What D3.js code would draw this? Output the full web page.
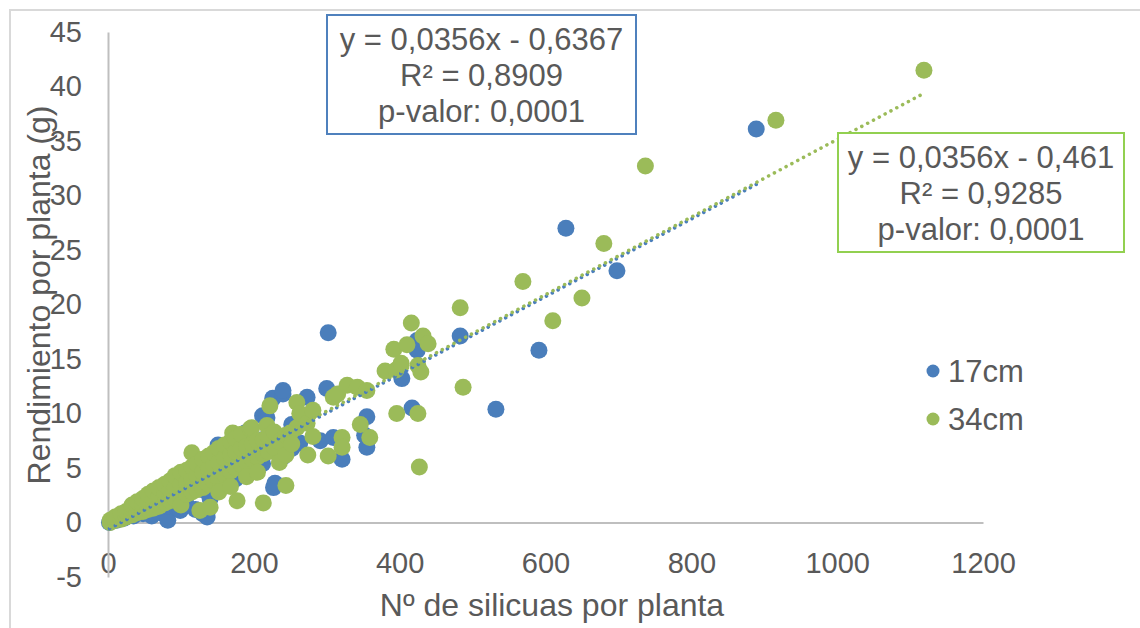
<!DOCTYPE html>
<html>
<head>
<meta charset="utf-8">
<script src="https://cdn.jsdelivr.net/npm/d3@7"></script>
<style>
  body { margin: 0; background: #fff; }
  svg { display: block; }
  text { font-family: "Liberation Sans", Arial, sans-serif; fill: #595959; }
</style>
</head>
<body>
<svg id="chart" width="1140" height="628"></svg>
<script>
// Axis ticks
const xTicks = [0, 200, 400, 600, 800, 1000, 1200];
const yTicks = [-5, 0, 5, 10, 15, 20, 25, 30, 35, 40, 45];

// Series
const seriesNames = ["17cm", "34cm"];
const seriesColors = ["#4a7ebb", "#9bbb59"];

// 17 cm spacing: [silicuas por planta, rendimiento por planta (g)]
const plants17 = [
  [2,0.0],[12,0.2],[22,0.4],[22,0.8],[35,0.6],[35,1.2],[48,0.8],[48,1.6],
  [60,0.6],[60,1.4],[60,2.2],[72,0.9],[72,2.0],[72,2.8],[82,0.2],[82,1.5],[82,3.0],
  [95,1.3],[95,2.4],[95,3.6],[99,1.1],[108,1.6],[108,3.0],[108,4.2],[120,1.2],[120,3.4],[120,4.8],
  [130,0.8],[130,3.0],[130,5.2],[136,0.5],[140,2.2],[140,4.0],[140,5.8],[151,3.0],[151,4.8],[151,7.1],
  [162,3.6],[162,5.4],[162,6.8],[175,4.0],[175,5.8],[175,7.6],[188,4.5],[188,6.4],[188,8.2],
  [200,5.0],[200,7.0],[212,5.4],[212,7.6],[212,9.8],[218,9.6],[226,11.4],[227,3.2],[229,3.6],
  [240,11.8],[240,12.1],[240,6.0],[252,6.8],[252,9.0],[263,7.3],[273,11.5],[291,7.5],
  [300,12.3],[302,17.4],[309,7.8],[321,5.8],[352,8.0],[355,6.9],[355,9.7],
  [403,13.2],[417,10.5],[424,16.7],[424,15.8],[483,17.1],[532,10.4],[591,15.8],
  [628,27.0],[698,23.1],[889,36.1]
];

// 34 cm spacing: [silicuas por planta, rendimiento por planta (g)]
const plants34 = [
  [3,0.0],[3,0.2],[10,0.2],[10,0.5],[18,0.3],[18,0.8],[25,0.5],[25,1.0],
  [33,0.7],[33,1.3],[33,1.6],[40,0.9],[40,1.5],[40,1.9],[48,1.0],[48,1.6],[48,2.2],
  [55,1.2],[55,1.9],[55,2.6],[62,1.3],[62,2.2],[62,2.9],[70,1.5],[70,2.4],[70,3.2],
  [78,1.8],[78,2.7],[78,3.5],[85,2.0],[85,3.0],[85,3.8],[92,2.2],[92,3.2],[92,4.3],
  [100,2.3],[100,3.5],[100,4.6],[100,1.6],[108,2.6],[108,3.7],[108,4.8],
  [115,2.8],[115,4.0],[115,5.1],[115,6.4],[122,3.0],[122,4.3],[122,5.4],[126,1.1],
  [130,3.2],[130,4.6],[130,5.8],[138,3.5],[138,4.9],[138,6.1],[140,1.4],
  [145,3.8],[145,5.3],[145,6.4],[152,4.0],[152,5.5],[152,6.8],[152,2.8],
  [160,4.4],[160,5.9],[160,7.1],[168,4.7],[168,6.2],[168,7.4],[168,3.3],
  [171,8.2],[175,5.0],[175,6.5],[175,7.7],[177,2.0],[183,5.3],[183,6.8],[183,8.1],
  [190,5.6],[190,7.0],[190,4.2],[195,8.6],[198,5.8],[198,7.2],[197,8.7],
  [205,6.0],[205,7.5],[205,4.6],[213,6.3],[213,7.6],[213,1.8],[218,8.9],[222,10.7],
  [220,6.5],[220,7.9],[228,6.9],[228,8.3],[235,5.5],[235,7.4],[244,3.4],[244,6.2],[244,8.0],
  [250,8.2],[252,7.2],[259,8.7],[259,11.0],[263,10.0],[273,9.1],[274,6.2],
  [281,7.9],[281,10.3],[302,6.1],[309,11.5],[315,11.8],[321,7.8],[321,6.9],
  [328,12.6],[342,12.4],[355,12.1],[346,9.0],[359,7.8],
  [380,13.9],[392,15.9],[395,14.0],[396,10.0],[402,14.6],[410,16.3],[416,18.3],
  [425,14.4],[425,10.0],[427,5.1],[429,13.8],[432,17.1],[439,16.4],
  [483,19.7],[487,12.4],[569,22.1],[610,18.5],[650,20.6],[680,25.6],
  [737,32.7],[916,36.9],[1119,41.5]
];

// Linear fits reported for each series
const fitSlopes = [0.0356, 0.0356];
const fitIntercepts = [-0.6367, -0.461];
const fitLabels17 = ["y = 0,0356x - 0,6367", "R² = 0,8909", "p-valor: 0,0001"];
const fitLabels34 = ["y = 0,0356x - 0,461", "R² = 0,9285", "p-valor: 0,0001"];

const svg = d3.select("#chart");
const FONT = "Liberation Sans, Arial, sans-serif";

// Outer chart frame
svg.append("rect")
  .attr("x", 10).attr("y", 10).attr("width", 1150).attr("height", 640)
  .attr("fill", "none").attr("stroke", "#d9d9d9").attr("stroke-width", 2);

const x = d3.scaleLinear().domain([0, 1200]).range([108, 983]);
const y = d3.scaleLinear().domain([-5, 45]).range([577, 32]);

// Plain hyphen for negative tick values
const tickFmt = d => String(d);

// Axes
const xAxis = svg.append("g")
  .attr("transform", `translate(0,${y(0)})`)
  .call(d3.axisBottom(x).tickValues(xTicks).tickSize(0).tickPadding(30).tickFormat(tickFmt));
xAxis.select(".domain").attr("stroke", "#bfbfbf").attr("stroke-width", 2);
xAxis.selectAll("text").attr("font-size", 29).attr("fill", "#595959").attr("font-family", FONT);

const yAxis = svg.append("g")
  .attr("transform", `translate(${x(0)},0)`)
  .call(d3.axisLeft(y).tickValues(yTicks).tickSize(0).tickPadding(26).tickFormat(tickFmt));
yAxis.select(".domain").attr("stroke", "#bfbfbf").attr("stroke-width", 2);
yAxis.selectAll("text").attr("font-size", 29).attr("fill", "#595959").attr("font-family", FONT);

// Axis titles
svg.append("text")
  .attr("x", 552).attr("y", 616).attr("text-anchor", "middle")
  .attr("font-size", 32).text("Nº de silicuas por planta");
svg.append("text")
  .attr("transform", `translate(50,295) rotate(-90)`)
  .attr("text-anchor", "middle").attr("font-size", 32)
  .text("Rendimiento por planta (g)");

// Points
const allSeries = [plants17, plants34];
allSeries.forEach((pts, i) => {
  svg.append("g").selectAll("circle").data(pts).join("circle")
    .attr("cx", d => x(d[0])).attr("cy", d => y(d[1]))
    .attr("r", 8.5).attr("fill", seriesColors[i]);
});

// Dotted trend lines over each series' x range
allSeries.forEach((pts, i) => {
  const [x0, x1] = d3.extent(pts, d => d[0]);
  const line = d3.line().x(d => x(d)).y(d => y(fitSlopes[i] * d + fitIntercepts[i]));
  svg.append("path")
    .attr("d", line([x0, x1]))
    .attr("fill", "none").attr("stroke", seriesColors[i])
    .attr("stroke-width", 3.5).attr("stroke-linecap", "round")
    .attr("stroke-dasharray", "0.1,6.5");
});

// Equation boxes
function fitBox(lines, bx, by, bw, bh, border) {
  const g = svg.append("g");
  g.append("rect").attr("x", bx).attr("y", by).attr("width", bw).attr("height", bh)
    .attr("fill", "#fff").attr("stroke", border).attr("stroke-width", 2);
  lines.forEach((t, k) => {
    g.append("text").attr("x", bx + bw / 2).attr("y", by + 35 + k * 36)
      .attr("text-anchor", "middle").attr("font-size", 31).text(t);
  });
}
fitBox(fitLabels17, 327, 15, 309, 119, "#4f81bd");
fitBox(fitLabels34, 838, 133, 286, 119, "#92d050");

// Legend
seriesNames.forEach((name, i) => {
  const ly = 371 + i * 48;
  svg.append("circle").attr("cx", 933).attr("cy", ly).attr("r", 6.5).attr("fill", seriesColors[i]);
  svg.append("text").attr("x", 948).attr("y", ly + 11).attr("font-size", 31).text(name);
});
</script>
</body>
</html>
